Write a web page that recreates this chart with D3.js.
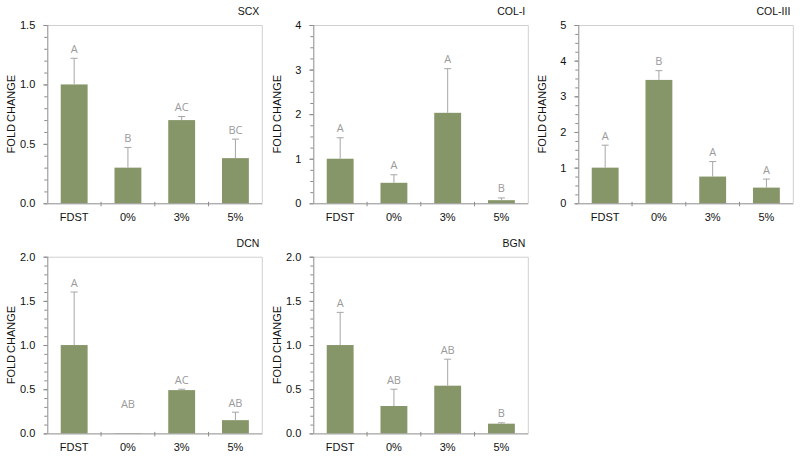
<!DOCTYPE html>
<html>
<head>
<meta charset="utf-8">
<script src="https://cdn.jsdelivr.net/npm/d3@7"></script>
<style>
  html, body { margin: 0; padding: 0; background: #fff; }
  svg { display: block; }
</style>
</head>
<body>
<svg id="chart" width="800" height="459"></svg>
<script>
// ---- data ----
const categories = ["FDST", "0%", "3%", "5%"];
const panelTitles = ["SCX", "COL-I", "COL-III", "DCN", "BGN"];

const scxMean = [1.0, 0.30, 0.70, 0.38];
const scxErr  = [0.22, 0.17, 0.03, 0.16];
const scxLetters = ["A", "B", "AC", "BC"];

const col1Mean = [1.0, 0.46, 2.03, 0.07];
const col1Err  = [0.47, 0.18, 0.99, 0.05];
const col1Letters = ["A", "A", "A", "B"];

const col3Mean = [1.0, 3.46, 0.75, 0.44];
const col3Err  = [0.63, 0.26, 0.42, 0.24];
const col3Letters = ["A", "B", "A", "A"];

const dcnMean = [1.0, 0.003, 0.49, 0.15];
const dcnErr  = [0.60, 0.0, 0.01, 0.09];
const dcnLetters = ["A", "AB", "AC", "AB"];
const dcnLetterAnchor = [null, 0.23, null, null]; // letter anchor (value units) where no error bar

const bgnMean = [1.0, 0.31, 0.54, 0.11];
const bgnErr  = [0.37, 0.19, 0.30, 0.01];
const bgnLetters = ["A", "AB", "AB", "B"];

const yMaxes = [1.5, 4, 5, 2.0, 2.0];
const yMajorSteps = [0.5, 1, 1, 0.5, 0.5];
const yMinorDivs = [5, 4, 4, 5, 5];
const yFormats = [".1f", "d", "d", ".1f", ".1f"];

const panels = [
  { title: panelTitles[0], mean: scxMean, err: scxErr, letters: scxLetters, anchor: null },
  { title: panelTitles[1], mean: col1Mean, err: col1Err, letters: col1Letters, anchor: null },
  { title: panelTitles[2], mean: col3Mean, err: col3Err, letters: col3Letters, anchor: null },
  { title: panelTitles[3], mean: dcnMean, err: dcnErr, letters: dcnLetters, anchor: dcnLetterAnchor },
  { title: panelTitles[4], mean: bgnMean, err: bgnErr, letters: bgnLetters, anchor: null }
];

// ---- layout ----
const colLefts = [47.3, 313.3, 578.3];
const rowTops = [25, 256.7];
const plotW = 215;
const plotHs = [178.3, 176.7];

const barColor = "#879669";
const errColor = "#a6a6a6";
const letterColor = "#9a9a9a";
const axisColor = "#8c8c8c";
const frameColor = "#d0d0d0";
const font = "Arial, 'Liberation Sans', sans-serif";

const svg = d3.select("#chart");

panels.forEach((p, i) => {
  const row = Math.floor(i / 3), col = i % 3;
  const left = colLefts[col], top = rowTops[row], h = plotHs[row];
  const g = svg.append("g").attr("transform", `translate(${left},${top})`);

  const x = d3.scaleBand().domain(categories).range([0, plotW]).paddingInner(0.5).paddingOuter(0.25);
  const y = d3.scaleLinear().domain([0, yMaxes[i]]).range([h, 0]);

  // frame (top & right)
  g.append("path")
    .attr("d", `M0.5,0.5H${plotW}V${h}`)
    .attr("fill", "none").attr("stroke", frameColor).attr("stroke-width", 1);

  // bars
  g.selectAll("rect.bar").data(categories).enter().append("rect")
    .attr("x", d => x(d)).attr("width", x.bandwidth())
    .attr("y", (d, j) => y(p.mean[j]))
    .attr("height", (d, j) => h - y(p.mean[j]))
    .attr("fill", barColor);

  // error bars (upper only)
  categories.forEach((c, j) => {
    if (p.err[j] <= 0) return;
    const cx = x(c) + x.bandwidth() / 2;
    const y1 = y(p.mean[j]), y2 = y(p.mean[j] + p.err[j]);
    g.append("line").attr("x1", cx).attr("x2", cx).attr("y1", y1).attr("y2", y2)
      .attr("stroke", errColor).attr("stroke-width", 1);
    g.append("line").attr("x1", cx - 3.5).attr("x2", cx + 3.5).attr("y1", y2).attr("y2", y2)
      .attr("stroke", errColor).attr("stroke-width", 1);
  });

  // letters
  categories.forEach((c, j) => {
    const cx = x(c) + x.bandwidth() / 2;
    const anchorVal = (p.anchor && p.anchor[j] != null) ? p.anchor[j] : p.mean[j] + p.err[j];
    g.append("text")
      .attr("x", cx).attr("y", y(anchorVal) - 5.5)
      .attr("text-anchor", "middle")
      .attr("font-family", "'Open Sans', 'Liberation Sans', sans-serif")
      .attr("font-size", "11px")
      .attr("fill", letterColor)
      .text(p.letters[j]);
  });

  // y axis: minor ticks
  const minorStep = yMajorSteps[i] / yMinorDivs[i];
  const minorVals = d3.range(0, yMaxes[i] + 1e-9, minorStep);
  g.append("g").call(d3.axisLeft(y).tickValues(minorVals).tickSize(3).tickFormat(""))
    .call(a => a.select(".domain").remove())
    .call(a => a.selectAll("line").attr("stroke", axisColor));

  // y axis: major
  const majorVals = d3.range(0, yMaxes[i] + 1e-9, yMajorSteps[i]);
  const yAx = g.append("g").call(d3.axisLeft(y).tickValues(majorVals).tickSize(4).tickPadding(8)
      .tickFormat(d3.format(yFormats[i])));
  yAx.select(".domain").attr("stroke", axisColor).attr("d", `M0.5,${h}V0`);
  yAx.selectAll("line").attr("stroke", axisColor);
  yAx.selectAll("text").attr("font-family", font)
    .attr("font-size", "11px").attr("fill", "#111");

  // x axis
  const xAx = g.append("g").attr("transform", `translate(0,${h})`)
    .call(d3.axisBottom(x).tickSize(0).tickPadding(10));
  xAx.select(".domain").attr("stroke", axisColor).attr("d", `M0,0.5H${plotW}`);
  xAx.selectAll("text").attr("font-family", font)
    .attr("font-size", "11px").attr("fill", "#111");
  // category boundary ticks
  const step = x.step();
  const bounds = d3.range(1, categories.length).map(k => x(categories[k]) - (step - x.bandwidth()) / 2);
  xAx.selectAll("line.sep").data(bounds).enter().append("line")
    .attr("class", "sep").attr("x1", d => d).attr("x2", d => d).attr("y1", -1.5).attr("y2", 3)
    .attr("stroke", axisColor);

  // title
  g.append("text")
    .attr("x", plotW - 3).attr("y", -10)
    .attr("text-anchor", "end")
    .attr("font-family", font)
    .attr("font-size", "10.5px").attr("fill", "#111")
    .text(p.title);

  // y label
  g.append("text")
    .attr("transform", `translate(${-32},${h / 2}) rotate(-90)`)
    .attr("text-anchor", "middle")
    .attr("font-family", font)
    .attr("font-size", "11px").attr("fill", "#111")
    .attr("word-spacing", "-1px")
    .text("FOLD CHANGE");
});
</script>
</body>
</html>
